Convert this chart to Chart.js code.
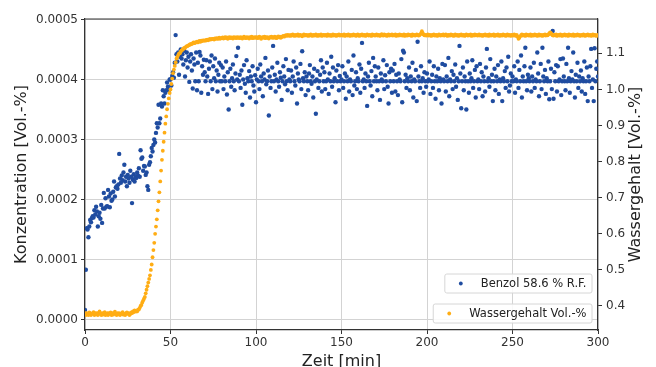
<!DOCTYPE html>
<html>
<head>
<meta charset="utf-8">
<script src="https://cdn.jsdelivr.net/npm/chart.js@4.4.0/dist/chart.umd.min.js"></script>
<style>
  html, body { margin: 0; padding: 0; background: #fff; overflow: hidden; }
</style>
</head>
<body>
<canvas id="chart" width="656" height="376"></canvas>
<script>
// one reading every half minute, starting at t = 0
const sampleStep = 0.5;

// Benzol concentration, in units of 1e-4 Vol.-%
const benzol = [
  0.16, 0.83, 1.52, 1.50, 1.37, 1.55, 1.66, 1.62, 1.69, 1.72, 1.70, 1.82, 1.75, 1.88, 1.80, 1.55, 1.72, 1.78, 1.68, 1.91,
  1.61, 1.85, 2.11, 1.85, 2.02, 1.88, 1.89, 2.16, 2.05, 1.87, 2.10, 1.98, 2.00, 2.13, 2.30, 2.05, 2.20, 2.22, 2.18, 2.25,
  2.76, 2.35, 2.28, 2.40, 2.32, 2.45, 2.58, 2.30, 2.38, 2.22, 2.41, 2.35, 2.28, 2.48, 2.38, 1.94, 2.33, 2.42, 2.30, 2.37,
  2.36, 2.45, 2.40, 2.52, 2.38, 2.82, 2.68, 2.70, 2.48, 2.56, 2.55, 2.41, 2.45, 2.22, 2.16, 2.58, 2.62, 2.72, 2.86, 2.80,
  2.91, 3.00, 2.95, 3.11, 3.27, 3.20, 3.58, 3.27, 3.35, 3.60, 3.55, 3.82, 3.72, 3.60, 3.78, 3.82, 3.95, 3.88, 3.82, 4.00,
  4.00, 3.90, 4.06, 4.12, 4.03, 4.28, 4.74, 4.42, 4.30, 4.45, 4.08, 4.38, 4.50, 4.35, 4.42, 4.25, 4.48, 4.05, 4.32, 4.45,
  4.20, 4.38, 3.96, 4.30, 4.42, 4.15, 3.85, 4.35, 4.25, 3.97, 4.45, 3.82, 4.28, 3.97, 4.46, 4.40, 3.78, 4.22, 4.08, 4.33,
  4.12, 3.97, 4.32, 4.05, 3.76, 4.18, 4.30, 3.97, 4.40, 3.84, 4.22, 4.02, 4.35, 3.97, 4.15, 3.80, 4.08, 4.28, 3.97, 4.24,
  3.97, 4.20, 3.84, 4.05, 3.97, 4.30, 3.75, 4.12, 3.50, 3.97, 4.18, 3.88, 4.02, 4.25, 3.97, 3.82, 4.10, 4.39, 4.00, 4.53,
  3.97, 4.08, 3.86, 4.15, 3.58, 4.00, 4.24, 3.93, 3.78, 4.32, 4.02, 3.97, 4.14, 3.70, 4.05, 3.97, 4.22, 3.90, 3.80, 4.07,
  3.62, 4.00, 4.18, 3.97, 3.84, 4.25, 4.05, 3.97, 3.72, 4.10, 4.00, 4.36, 3.92, 3.97, 4.15, 3.40, 4.05, 3.86, 3.97, 4.20,
  4.56, 3.97, 4.08, 3.80, 4.00, 4.28, 3.97, 3.88, 4.12, 4.03, 3.66, 3.97, 4.22, 4.05, 3.92, 4.34, 3.97, 3.82, 4.16, 4.00,
  3.97, 4.15, 3.78, 4.05, 4.30, 3.97, 3.90, 4.20, 3.60, 4.10, 4.00, 3.97, 4.26, 3.84, 4.47, 4.02, 3.97, 4.12, 3.74, 4.05,
  3.97, 3.82, 4.10, 4.24, 3.97, 3.93, 4.05, 3.70, 4.18, 3.97, 3.43, 4.00, 4.14, 3.86, 3.97, 4.08, 4.32, 3.80, 4.20, 3.97,
  4.12, 3.84, 3.97, 4.28, 4.00, 3.76, 4.10, 3.97, 4.38, 3.88, 4.20, 3.97, 4.02, 3.62, 4.15, 3.97, 4.24, 3.82, 4.06, 3.97,
  4.00, 4.22, 3.86, 3.97, 4.10, 3.68, 4.05, 3.97, 4.30, 3.80, 4.00, 3.97, 4.16, 3.74, 4.40, 3.90, 3.97, 4.12, 3.84, 4.02,
  3.97, 4.25, 3.78, 4.18, 4.61, 3.97, 4.00, 3.86, 4.10, 3.97, 3.56, 4.05, 4.28, 3.97, 3.90, 4.14, 3.72, 4.36, 3.97, 4.22,
  4.05, 3.97, 3.82, 4.20, 3.97, 3.66, 4.10, 4.00, 3.97, 4.32, 3.84, 4.07, 3.97, 4.24, 3.88, 3.60, 4.12, 3.97, 4.18, 3.78,
  4.15, 3.97, 4.26, 3.80, 4.08, 3.97, 3.74, 4.10, 4.00, 3.97, 4.34, 3.62, 4.48, 4.45, 3.97, 4.08, 3.86, 4.02, 3.97, 4.20,
  3.82, 4.05, 3.97, 4.28, 3.70, 4.00, 3.97, 4.16, 3.64, 4.63, 4.05, 3.97, 3.86, 4.22, 3.97, 4.02, 3.78, 4.12, 3.97, 3.88,
  4.10, 3.97, 4.00, 4.30, 3.76, 3.97, 4.08, 3.86, 4.22, 3.97, 3.68, 4.05, 3.97, 4.18, 3.82, 4.02, 3.97, 3.60, 4.26, 4.00,
  3.97, 4.24, 3.80, 4.05, 3.97, 4.36, 3.72, 4.00, 3.97, 4.14, 3.84, 4.08, 3.97, 4.25, 3.88, 4.02, 3.66, 3.97, 4.56, 4.10,
  3.52, 3.97, 4.20, 3.82, 4.05, 3.97, 3.50, 4.30, 3.97, 3.78, 4.10, 3.97, 4.02, 4.32, 3.86, 3.97, 4.16, 3.70, 4.22, 3.97,
  4.00, 3.84, 4.26, 3.97, 4.12, 3.72, 4.05, 3.97, 3.80, 4.20, 4.51, 3.97, 4.02, 3.88, 4.34, 3.97, 4.08, 3.64, 3.97, 4.18,
  3.82, 4.05, 3.97, 4.24, 3.76, 4.00, 3.97, 4.30, 3.64, 4.02, 3.97, 4.14, 3.86, 4.20, 3.97, 4.38, 3.80, 3.90, 4.10, 3.97,
  4.05, 3.97, 4.22, 3.78, 4.00, 3.97, 4.30, 3.86, 4.16, 3.97, 4.40, 3.70, 4.05, 3.97, 4.22, 4.53, 3.97, 3.82, 4.08, 4.02,
  3.97, 4.20, 3.80, 4.05, 3.97, 4.28, 3.86, 4.00, 3.97, 4.45, 4.10, 3.72, 3.97, 4.26, 3.84, 4.53, 4.05, 3.97, 4.16, 3.76,
  4.02, 3.97, 4.30, 3.67, 3.97, 4.18, 3.84, 4.81, 3.68, 4.12, 3.97, 4.24, 3.80, 4.22, 3.97, 4.00, 4.34, 3.74, 3.97, 4.35,
  4.05, 3.97, 3.82, 4.26, 3.97, 4.53, 4.02, 3.78, 3.97, 4.14, 4.00, 4.45, 3.97, 3.70, 4.08, 3.97, 4.28, 3.86, 4.05, 3.97,
  4.15, 3.80, 4.02, 3.97, 4.30, 3.76, 3.97, 4.20, 3.64, 4.05, 3.97, 4.22, 4.51, 3.86, 4.00, 3.64, 4.52, 3.97, 4.18, 4.30,
  4.05
];

// water content in Vol.-% (right axis)
const wasser = [
  0.38, 0.375, 0.38, 0.378, 0.375, 0.382, 0.38, 0.375, 0.378, 0.38, 0.383, 0.375, 0.38, 0.377, 0.38, 0.375, 0.38, 0.385, 0.378, 0.375,
  0.38, 0.376, 0.38, 0.383, 0.375, 0.378, 0.38, 0.375, 0.38, 0.378, 0.382, 0.375, 0.38, 0.376, 0.38, 0.384, 0.378, 0.375, 0.38, 0.377,
  0.38, 0.375, 0.378, 0.38, 0.383, 0.376, 0.378, 0.375, 0.38, 0.382, 0.378, 0.38, 0.375, 0.378, 0.382, 0.38, 0.385, 0.383, 0.388, 0.385,
  0.385, 0.385, 0.39, 0.39, 0.395, 0.40, 0.403, 0.41, 0.415, 0.42, 0.425, 0.435, 0.445, 0.455, 0.465, 0.475, 0.485, 0.50, 0.515, 0.535,
  0.555, 0.575, 0.60, 0.62, 0.64, 0.665, 0.69, 0.715, 0.745, 0.775, 0.805, 0.83, 0.855, 0.88, 0.905, 0.925, 0.945, 0.96, 0.975, 0.99,
  1.00, 1.015, 1.03, 1.045, 1.055, 1.065, 1.075, 1.085, 1.09, 1.095, 1.10, 1.10, 1.105, 1.108, 1.11, 1.112, 1.115, 1.115, 1.118, 1.12,
  1.12, 1.122, 1.123, 1.125, 1.125, 1.126, 1.128, 1.13, 1.128, 1.13, 1.13, 1.132, 1.13, 1.133, 1.134, 1.132, 1.135, 1.134, 1.136, 1.135,
  1.136, 1.135, 1.137, 1.138, 1.136, 1.138, 1.14, 1.138, 1.139, 1.14, 1.14, 1.138, 1.141, 1.14, 1.142, 1.14, 1.141, 1.143, 1.14, 1.142,
  1.142, 1.144, 1.141, 1.143, 1.145, 1.142, 1.144, 1.14, 1.143, 1.145, 1.142, 1.144, 1.143, 1.141, 1.145, 1.143, 1.144, 1.142, 1.145, 1.143,
  1.144, 1.142, 1.145, 1.143, 1.141, 1.144, 1.146, 1.143, 1.142, 1.145, 1.143, 1.144, 1.141, 1.145, 1.143, 1.146, 1.142, 1.144, 1.143, 1.145,
  1.143, 1.145, 1.142, 1.144, 1.146, 1.143, 1.14, 1.144, 1.145, 1.143, 1.146, 1.142, 1.144, 1.145, 1.143, 1.141, 1.145, 1.144, 1.146, 1.143,
  1.145, 1.143, 1.146, 1.144, 1.142, 1.145, 1.147, 1.144, 1.146, 1.143, 1.145, 1.147, 1.148, 1.146, 1.149, 1.15, 1.148, 1.151, 1.149, 1.15,
  1.148, 1.151, 1.149, 1.152, 1.15, 1.148, 1.151, 1.149, 1.15, 1.152, 1.148, 1.15, 1.151, 1.149, 1.147, 1.15, 1.152, 1.149, 1.151, 1.15,
  1.15, 1.148, 1.151, 1.149, 1.152, 1.15, 1.148, 1.151, 1.15, 1.149, 1.152, 1.15, 1.148, 1.151, 1.149, 1.15, 1.152, 1.148, 1.15, 1.151,
  1.149, 1.151, 1.15, 1.148, 1.152, 1.15, 1.149, 1.151, 1.148, 1.15, 1.152, 1.149, 1.151, 1.15, 1.148, 1.151, 1.15, 1.152, 1.149, 1.15,
  1.151, 1.149, 1.15, 1.152, 1.148, 1.15, 1.151, 1.149, 1.152, 1.15, 1.148, 1.151, 1.15, 1.149, 1.152, 1.15, 1.151, 1.148, 1.15, 1.152,
  1.15, 1.148, 1.151, 1.15, 1.152, 1.149, 1.15, 1.151, 1.148, 1.15, 1.152, 1.15, 1.149, 1.151, 1.15, 1.148, 1.152, 1.15, 1.151, 1.149,
  1.15, 1.152, 1.149, 1.151, 1.15, 1.148, 1.151, 1.153, 1.15, 1.149, 1.152, 1.15, 1.151, 1.148, 1.15, 1.152, 1.149, 1.151, 1.15, 1.152,
  1.149, 1.151, 1.15, 1.152, 1.148, 1.15, 1.151, 1.149, 1.152, 1.15, 1.151, 1.149, 1.15, 1.152, 1.148, 1.151, 1.15, 1.149, 1.152, 1.15,
  1.151, 1.15, 1.148, 1.152, 1.15, 1.151, 1.149, 1.15, 1.152, 1.151, 1.149, 1.15, 1.152, 1.155, 1.161, 1.156, 1.152, 1.15, 1.151, 1.149,
  1.15, 1.152, 1.149, 1.151, 1.15, 1.148, 1.151, 1.15, 1.152, 1.149, 1.15, 1.151, 1.148, 1.15, 1.152, 1.15, 1.149, 1.151, 1.15, 1.152,
  1.149, 1.15, 1.152, 1.15, 1.148, 1.151, 1.15, 1.149, 1.152, 1.15, 1.151, 1.148, 1.15, 1.152, 1.149, 1.151, 1.15, 1.148, 1.151, 1.15,
  1.152, 1.149, 1.15, 1.151, 1.148, 1.15, 1.152, 1.15, 1.149, 1.151, 1.15, 1.152, 1.148, 1.15, 1.151, 1.149, 1.152, 1.15, 1.151, 1.149,
  1.15, 1.152, 1.149, 1.151, 1.15, 1.148, 1.151, 1.15, 1.152, 1.149, 1.15, 1.151, 1.148, 1.152, 1.15, 1.149, 1.151, 1.15, 1.152, 1.148,
  1.15, 1.151, 1.149, 1.152, 1.15, 1.148, 1.151, 1.15, 1.149, 1.152, 1.15, 1.151, 1.148, 1.15, 1.152, 1.149, 1.151, 1.15, 1.148, 1.151,
  1.15, 1.149, 1.152, 1.15, 1.148, 1.151, 1.146, 1.14, 1.143, 1.147, 1.15, 1.152, 1.149, 1.151, 1.15, 1.148, 1.152, 1.15, 1.151, 1.149,
  1.15, 1.152, 1.148, 1.151, 1.15, 1.149, 1.152, 1.15, 1.151, 1.148, 1.15, 1.152, 1.149, 1.151, 1.15, 1.148, 1.151, 1.15, 1.152, 1.149,
  1.151, 1.15, 1.152, 1.155, 1.158, 1.156, 1.152, 1.15, 1.149, 1.151, 1.15, 1.152, 1.148, 1.15, 1.151, 1.149, 1.152, 1.15, 1.148, 1.151,
  1.15, 1.152, 1.149, 1.151, 1.15, 1.148, 1.152, 1.15, 1.151, 1.149, 1.15, 1.152, 1.148, 1.151, 1.15, 1.149, 1.152, 1.15, 1.151, 1.148,
  1.15, 1.151, 1.149, 1.152, 1.15, 1.148, 1.151, 1.15, 1.152, 1.149, 1.15, 1.151, 1.148, 1.15, 1.152, 1.149, 1.151, 1.15, 1.148, 1.15,
  1.15
];

const xTicks = [0, 50, 100, 150, 200, 250, 300];
const leftTicks = [0, 0.0001, 0.0002, 0.0003, 0.0004, 0.0005];
const rightTicks = [0.4, 0.5, 0.6, 0.7, 0.8, 0.9, 1.0, 1.1];

const benzolLabel = 'Benzol 58.6 % R.F.';
const wasserLabel = 'Wassergehalt Vol.-%';
const xTitle = 'Zeit [min]';
const leftTitle = 'Konzentration [Vol.-%]';
const rightTitle = 'Wassergehalt [Vol.-%]';

const blue = '#1f4ca0';
const orange = '#ffad14';
const gridColor = '#d3d3d3';
const axisColor = '#333';
const textColor = '#333';

Chart.defaults.font.family = '"DejaVu Sans", sans-serif';
Chart.defaults.color = textColor;

// matplotlib draws each twin axis legend in its own box, and the
// right label reads upwards, so those bits are painted by hand
const framePlugin = {
  id: 'framePlugin',
  afterDraw(chart) {
    const { ctx, chartArea: a } = chart;
    ctx.save();
    ctx.strokeStyle = axisColor;
    ctx.lineWidth = 1.2;
    ctx.beginPath();
    ctx.moveTo(a.left, a.top);
    ctx.lineTo(a.right, a.top);
    ctx.stroke();

    ctx.save();
    ctx.translate(636, (a.top + a.bottom) / 2);
    ctx.rotate(-Math.PI / 2);
    ctx.font = '16px "DejaVu Sans"';
    ctx.fillStyle = '#222';
    ctx.textAlign = 'center';
    ctx.textBaseline = 'middle';
    ctx.fillText(rightTitle, 0, 0);
    ctx.restore();

    ctx.font = '11.5px "DejaVu Sans"';
    const boxes = [
      { ds: chart.data.datasets[1], top: a.bottom - 56 },
      { ds: chart.data.datasets[0], top: a.bottom - 26 }
    ];
    boxes.forEach(b => {
      const w = ctx.measureText(b.ds.label).width;
      const right = a.right - 6;
      const textLeft = right - 5.5 - w;
      const markerX = textLeft - 20;
      const left = markerX - 16;
      const h = 19;
      ctx.beginPath();
      ctx.roundRect(left, b.top, right - left, h, 2);
      ctx.fillStyle = 'rgba(255,255,255,0.85)';
      ctx.fill();
      ctx.strokeStyle = '#d6d6d6';
      ctx.lineWidth = 1;
      ctx.stroke();
      ctx.beginPath();
      ctx.arc(markerX, b.top + h / 2, 1.9, 0, Math.PI * 2);
      ctx.fillStyle = b.ds.backgroundColor;
      ctx.fill();
      ctx.fillStyle = '#222';
      ctx.textAlign = 'left';
      ctx.textBaseline = 'middle';
      ctx.fillText(b.ds.label, textLeft, b.top + h / 2 + 0.5);
    });
    ctx.restore();
  }
};

new Chart(document.getElementById('chart'), {
  type: 'scatter',
  data: {
    datasets: [
      {
        label: wasserLabel,
        data: wasser.map((v, i) => ({ x: i * sampleStep, y: v })),
        yAxisID: 'y1',
        backgroundColor: orange,
        borderWidth: 0,
        pointRadius: 1.9,
        order: 0
      },
      {
        label: benzolLabel,
        data: benzol.map((v, i) => ({ x: i * sampleStep, y: v * 1e-4 })),
        yAxisID: 'y',
        backgroundColor: blue,
        borderWidth: 0,
        pointRadius: 2.2,
        order: 1
      }
    ]
  },
  options: {
    responsive: false,
    animation: false,
    layout: { padding: { top: 19, left: 0, right: 0, bottom: 0 } },
    plugins: { legend: { display: false }, tooltip: { enabled: false } },
    scales: {
      x: {
        type: 'linear',
        min: 0,
        max: 300,
        afterBuildTicks: s => { s.ticks = xTicks.map(v => ({ value: v })); },
        afterFit: s => { s.height = 46; },
        ticks: { font: { size: 12 }, padding: 2, maxRotation: 0 },
        grid: { color: gridColor, tickColor: axisColor, tickLength: 4 },
        border: { color: axisColor, width: 1.2 },
        title: { display: true, text: xTitle, color: '#222', font: { size: 16 }, padding: { top: 0, bottom: 5 } }
      },
      y: {
        position: 'left',
        min: -0.0000175,
        max: 0.0005008,
        afterBuildTicks: s => { s.ticks = leftTicks.map(v => ({ value: v })); },
        afterFit: s => { s.width = 85; },
        ticks: { font: { size: 12 }, padding: 3, callback: v => v.toFixed(4) },
        grid: { color: gridColor, tickColor: axisColor, tickLength: 4 },
        border: { color: axisColor, width: 1.2 },
        title: { display: true, text: leftTitle, color: '#222', font: { size: 16 }, padding: { top: 12, bottom: 0 } }
      },
      y1: {
        position: 'right',
        min: 0.3335,
        max: 1.195,
        afterBuildTicks: s => { s.ticks = rightTicks.map(v => ({ value: v })); },
        afterFit: s => { s.width = 58; },
        ticks: { font: { size: 12 }, padding: 4, callback: v => v.toFixed(1) },
        grid: { drawOnChartArea: false, tickColor: axisColor, tickLength: 4 },
        border: { color: axisColor, width: 1.2 }
      }
    }
  },
  plugins: [framePlugin]
});
</script>
</body>
</html>
